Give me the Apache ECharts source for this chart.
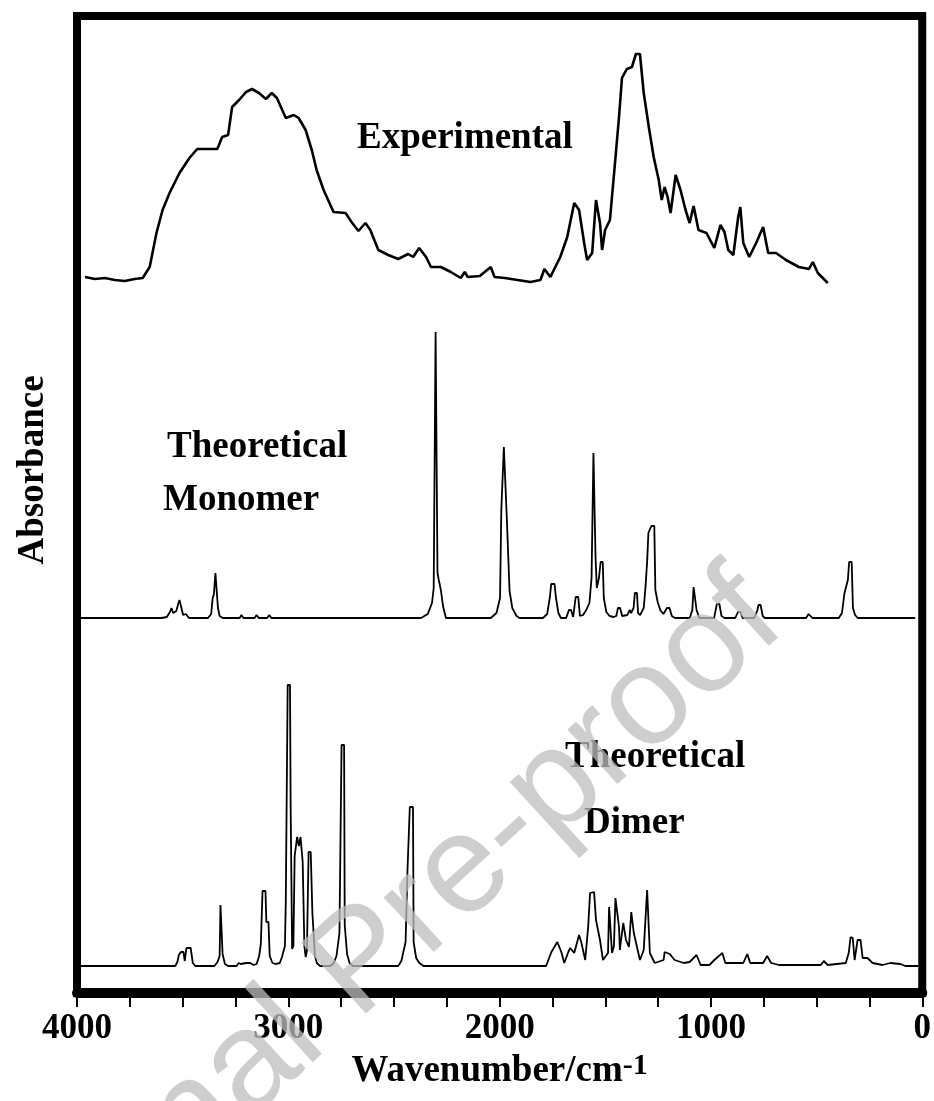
<!DOCTYPE html>
<html>
<head>
<meta charset="utf-8">
<script src="https://cdn.jsdelivr.net/npm/echarts@6/dist/echarts.min.js"></script>
<style>
  html, body { margin: 0; padding: 0; background: #fff; }
  #chart { width: 934px; height: 1101px; }
</style>
</head>
<body>
<div id="chart"></div>
<script>
// [wavenumber, absorbance above the trace's own baseline]
const expSpectrum = [
  [3962,13],[3915,11],[3868,12],[3821,10],[3774,9],[3727,11],[3689,12],[3656,23],[3624,57],[3595,80],
  [3562,97],[3515,117],[3468,132],[3431,141],[3336,141],[3313,153],[3285,155],[3266,183],[3233,190],
  [3200,198],[3172,201],[3139,197],[3106,191],[3078,197],[3054,192],[3012,172],[2974,175],[2951,172],
  [2918,160],[2889,140],[2866,120],[2833,100],[2786,78],[2729,77],[2701,68],[2668,59],[2635,67],
  [2612,60],[2574,40],[2527,35],[2480,31],[2433,36],[2409,33],[2381,42],[2348,33],[2325,23],[2278,23],
  [2231,18],[2184,12],[2165,18],[2151,13],[2094,14],[2042,23],[2024,13],[1976,12],[1915,10],[1854,8],
  [1807,10],[1788,21],[1760,13],[1713,33],[1680,53],[1647,87],[1624,80],[1600,47],[1586,30],[1562,37],
  [1544,90],[1525,67],[1515,40],[1501,60],[1478,70],[1454,127],[1435,173],[1421,212],[1398,221],
  [1374,223],[1355,236],[1336,236],[1318,197],[1294,163],[1271,133],[1247,110],[1233,90],[1219,103],
  [1205,93],[1191,77],[1167,115],[1144,100],[1120,80],[1101,67],[1082,84],[1059,60],[1021,57],[984,42],
  [955,65],[936,58],[918,40],[894,35],[871,73],[861,83],[847,47],[819,33],[786,47],[753,63],[729,37],
  [692,37],[645,30],[584,23],[536,21],[518,28],[494,17],[447,7]
];

const monomerSpectrum = [
  [4000,0],[3600,0],[3575,1],[3560,6],[3553,10],[3545,5],[3530,7],[3520,15],[3515,18],[3508,12],[3498,3],
  [3485,4],[3478,2],[3470,0],[3380,0],[3365,4],[3358,20],[3352,24],[3345,45],[3339,45],[3333,10],[3325,2],
  [3310,0],[3230,0],[3222,3],[3212,0],[3160,0],[3150,3],[3140,0],[3100,0],[3090,3],[3080,0],
  [2372,0],[2340,4],[2320,15],[2312,30],[2310,88],[2305,90],[2303,286],[2298,286],[2294,45],[2288,38],
  [2278,28],[2268,12],[2254,0],[2042,0],[2015,5],[1998,20],[1992,108],[1985,110],[1980,171],[1972,171],
  [1966,100],[1957,98],[1953,27],[1940,10],[1920,2],[1906,0],[1795,0],[1775,4],[1762,21],[1756,34],
  [1740,34],[1734,21],[1722,5],[1710,0],[1685,0],[1672,8],[1662,8],[1652,1],[1646,2],[1640,21],[1628,21],
  [1620,2],[1605,3],[1590,8],[1575,15],[1565,40],[1560,40],[1556,165],[1550,165],[1546,60],[1540,30],
  [1530,40],[1522,56],[1512,56],[1507,20],[1495,6],[1480,2],[1460,1],[1448,2],[1440,10],[1430,10],
  [1420,2],[1395,3],[1385,8],[1378,5],[1366,10],[1360,25],[1350,25],[1345,5],[1335,3],[1318,10],
  [1310,30],[1302,56],[1296,85],[1287,85],[1282,92],[1268,92],[1263,28],[1252,16],[1240,8],[1225,4],
  [1208,10],[1196,10],[1185,2],[1170,0],[1100,0],[1088,8],[1082,31],[1074,31],[1068,8],[1055,0],
  [985,0],[972,14],[960,14],[950,2],[935,0],[885,0],[872,6],[860,6],[850,0],[795,0],[780,8],[775,13],
  [765,13],[755,2],[745,0],[550,0],[538,4],[532,4],[520,0],[452,0],[444,2],[438,0],[395,0],[380,5],
  [368,25],[360,27],[352,38],[346,56],[334,56],[328,10],[318,3],[305,0],[250,0],[245,2],[240,0],
  [170,0],[165,2],[160,0],[104,0],[99,2],[94,0],[33,0]
];

const dimerSpectrum = [
  [4000,0],[3535,0],[3525,4],[3518,11],[3508,14],[3496,14],[3490,5],[3482,18],[3462,18],[3452,3],[3440,0],
  [3350,0],[3335,4],[3325,10],[3321,61],[3315,61],[3311,12],[3300,2],[3285,0],[3245,0],[3235,3],[3225,2],
  [3200,3],[3180,3],[3165,1],[3150,2],[3138,10],[3130,22],[3122,75],[3108,75],[3104,44],[3094,44],
  [3088,10],[3075,3],[3060,2],[3040,3],[3030,9],[3016,20],[3012,64],[3005,64],[3003,281],[2992,281],
  [2989,161],[2985,161],[2982,17],[2976,20],[2970,110],[2962,123],[2958,129],[2950,120],[2942,129],
  [2936,129],[2932,104],[2924,20],[2918,9],[2912,15],[2904,114],[2894,114],[2886,53],[2880,53],
  [2874,10],[2865,3],[2850,0],[2800,0],[2785,3],[2772,10],[2758,33],[2748,221],[2736,221],[2733,41],
  [2726,41],[2722,12],[2710,3],[2695,0],[2480,0],[2465,5],[2445,24],[2436,96],[2428,96],[2425,159],
  [2410,159],[2407,24],[2395,8],[2380,3],[2360,0],[1780,0],[1774,1],[1755,14],[1727,24],[1708,14],
  [1694,3],[1675,14],[1666,18],[1647,13],[1624,31],[1614,24],[1605,23],[1595,6],[1581,39],[1572,73],
  [1553,74],[1544,46],[1525,26],[1511,6],[1487,13],[1482,59],[1475,59],[1468,13],[1459,20],[1452,68],
  [1446,68],[1435,39],[1431,16],[1415,43],[1409,43],[1402,26],[1388,19],[1377,54],[1371,54],[1365,33],
  [1336,6],[1318,16],[1302,76],[1297,76],[1289,13],[1266,3],[1224,6],[1219,14],[1195,12],[1172,6],
  [1129,3],[1101,4],[1068,11],[1049,1],[1007,1],[984,6],[946,13],[932,3],[847,3],[828,12],[814,3],
  [753,3],[734,10],[715,3],[678,1],[480,1],[466,5],[447,1],[362,3],[348,13],[339,29],[329,28],[320,6],
  [306,26],[292,26],[282,8],[259,8],[235,3],[188,1],[151,3],[104,2],[80,0],[19,0]
];

// vertical offsets used to stack the three traces
const expOffset = 703;
const monomerOffset = 375;
const dimerOffset = 27;

const labelledTicks = [4000, 3000, 2000, 1000, 0];

const serif = '"Liberation Serif", "Times New Roman", serif';

function shift(spec, off) {
  return spec.map(p => [p[0], p[1] + off]);
}

const chart = echarts.init(document.getElementById('chart'));

chart.setOption({
  animation: false,
  backgroundColor: '#fff',
  grid: {
    left: 77, right: 8, top: 16, bottom: 108,
    show: true, borderColor: '#000', borderWidth: 8
  },
  xAxis: {
    type: 'value',
    min: 0, max: 4000, interval: 250,
    inverse: true,
    axisLine: { show: true, lineStyle: { color: '#000', width: 10 } },
    axisTick: { show: true, inside: false, length: 14, lineStyle: { color: '#000', width: 2 } },
    splitLine: { show: false },
    axisLabel: {
      margin: 18,
      color: '#000',
      fontFamily: serif, fontWeight: 'bold', fontSize: 35,
      formatter: v => labelledTicks.indexOf(v) >= 0 ? String(v) : ''
    },
    name: '{a|Wavenumber/cm}{b|-1}',
    nameLocation: 'middle',
    nameGap: 50,
    nameTextStyle: {
      rich: {
        a: { fontFamily: serif, fontWeight: 'bold', fontSize: 37, color: '#000', lineHeight: 42 },
        b: { fontFamily: serif, fontWeight: 'bold', fontSize: 30, color: '#000', verticalAlign: 'top', lineHeight: 26 }
      }
    }
  },
  yAxis: {
    type: 'value',
    min: 0, max: 977,
    axisLine: { show: false },
    axisTick: { show: false },
    axisLabel: { show: false },
    splitLine: { show: false }
  },
  series: [
    {
      type: 'line', name: 'Experimental', showSymbol: false, symbol: 'none',
      data: shift(expSpectrum, expOffset),
      lineStyle: { color: '#000', width: 2.6 }
    },
    {
      type: 'line', name: 'Theoretical Monomer', showSymbol: false, symbol: 'none',
      data: shift(monomerSpectrum, monomerOffset),
      lineStyle: { color: '#000', width: 1.8 }
    },
    {
      type: 'line', name: 'Theoretical Dimer', showSymbol: false, symbol: 'none',
      data: shift(dimerSpectrum, dimerOffset),
      lineStyle: { color: '#000', width: 1.8 }
    }
  ],
  graphic: [
    { type: 'text', left: 357, top: 120, style: { text: 'Experimental', font: 'bold 37px ' + serif, fill: '#000' } },
    { type: 'text', left: 167, top: 429, style: { text: 'Theoretical', font: 'bold 37px ' + serif, fill: '#000' } },
    { type: 'text', left: 163, top: 482, style: { text: 'Monomer', font: 'bold 37px ' + serif, fill: '#000' } },
    { type: 'text', left: 565, top: 739, style: { text: 'Theoretical', font: 'bold 37px ' + serif, fill: '#000' } },
    { type: 'text', left: 584, top: 805, style: { text: 'Dimer', font: 'bold 37px ' + serif, fill: '#000' } },
    {
      type: 'text', x: 33, y: 470, rotation: Math.PI / 2,
      style: { text: 'Absorbance', font: 'bold 37px ' + serif, fill: '#000', align: 'center', verticalAlign: 'middle' }
    },
    {
      type: 'text', x: 363, y: 964, rotation: 0.74, z: 100,
      style: { text: 'Journal Pre-proof', font: '140px "Liberation Sans", Arial, sans-serif', fill: 'rgba(190,190,190,0.75)', align: 'center', verticalAlign: 'middle' }
    }
  ]
});
</script>
</body>
</html>
